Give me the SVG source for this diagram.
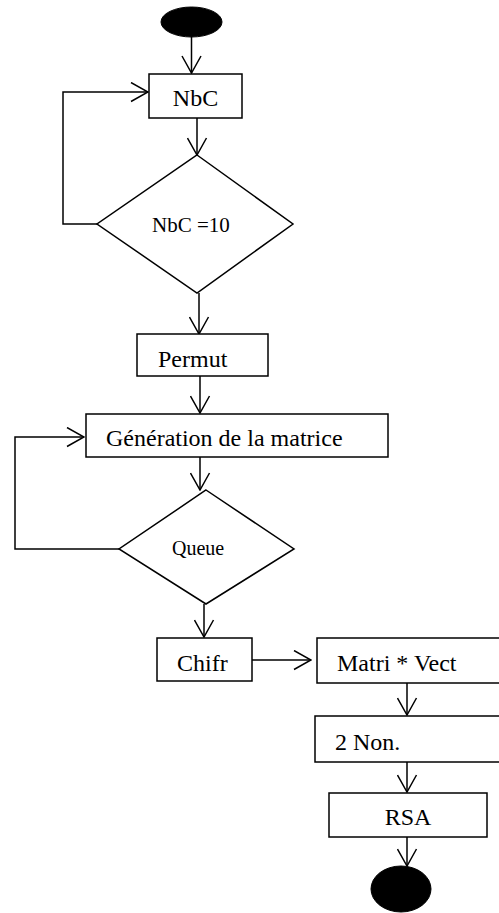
<svg xmlns="http://www.w3.org/2000/svg" width="499" height="913" viewBox="0 0 499 913">
<style>
.box{fill:#fff;stroke:#000;stroke-width:1.5}
.term{fill:#000;stroke:#000;stroke-width:1}
.lbl{font-family:"Liberation Serif","Times New Roman",serif;font-size:24px;fill:#000}
.dlbl{font-family:"Liberation Serif","Times New Roman",serif;font-size:21px;fill:#000}
.conn{fill:none;stroke:#000;stroke-width:1.5}
</style>
<defs>
<marker id="arr" markerUnits="userSpaceOnUse" viewBox="0 0 19 21" refX="18" refY="10.5" markerWidth="19" markerHeight="21" orient="auto">
<path d="M1,1 L18,10.5 L1,20" fill="none" stroke="#000" stroke-width="1.5"/>
</marker>
</defs>
<rect width="499" height="913" fill="#fff"/>
<g id="connectors" class="conn">
<path d="M191.5,37 V73" marker-end="url(#arr)"/>
<path d="M197,118 V155" marker-end="url(#arr)"/>
<path d="M97,224 H63 V92 H148" marker-end="url(#arr)"/>
<path d="M199,293 V334" marker-end="url(#arr)"/>
<path d="M200,376 V413" marker-end="url(#arr)"/>
<path d="M200,457 V490" marker-end="url(#arr)"/>
<path d="M119,549 H15 V437 H84" marker-end="url(#arr)"/>
<path d="M204,604 V637" marker-end="url(#arr)"/>
<path d="M252,660 H311" marker-end="url(#arr)"/>
<path d="M407,683 V715" marker-end="url(#arr)"/>
<path d="M407,762 V792" marker-end="url(#arr)"/>
<path d="M407,837 V866" marker-end="url(#arr)"/>
</g>
<g id="start"><ellipse class="term" cx="191.5" cy="22" rx="30.5" ry="15"/></g>
<g id="nbc"><rect class="box" x="149" y="74" width="93" height="44"/><text class="lbl" x="195.5" y="106" text-anchor="middle">NbC</text></g>
<g id="cond1"><polygon class="box" points="197,155 293,224 197,293 97,224"/><text class="dlbl" x="152" y="232">NbC =10</text></g>
<g id="permut"><rect class="box" x="137" y="334" width="131" height="42"/><text class="lbl" x="158" y="367">Permut</text></g>
<g id="generation"><rect class="box" x="86" y="414" width="302" height="43"/><text class="lbl" x="106" y="446">Génération de la matrice</text></g>
<g id="queue"><polygon class="box" points="206,490 294,549 206,604 119,549"/><text class="dlbl" x="172" y="555" style="font-size:20px">Queue</text></g>
<g id="chifr"><rect class="box" x="157" y="638" width="95" height="43"/><text class="lbl" x="177" y="671">Chifr</text></g>
<g id="matri"><rect class="box" x="317" y="638" width="190" height="45"/><text class="lbl" x="337" y="671">Matri * Vect</text></g>
<g id="non2"><rect class="box" x="315" y="716" width="192" height="46"/><text class="lbl" x="335" y="750">2 Non.</text></g>
<g id="rsa"><rect class="box" x="329" y="793" width="158" height="44"/><text class="lbl" x="408" y="825" text-anchor="middle">RSA</text></g>
<g id="end"><ellipse class="term" cx="401" cy="889" rx="30" ry="23"/></g>
</svg>
